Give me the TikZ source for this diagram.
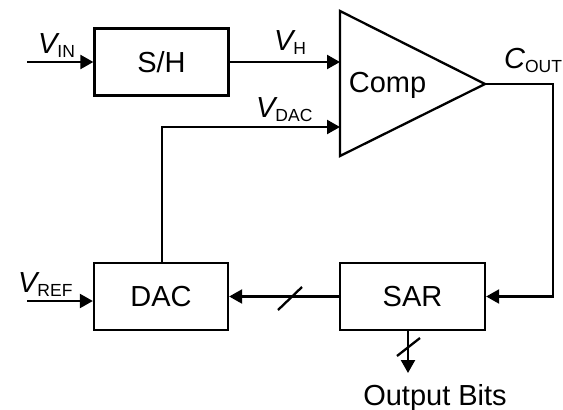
\documentclass[tikz,border=0pt]{standalone}
\usepackage{fontspec}
\setmainfont{Liberation Sans}
\usetikzlibrary{arrows.meta}
\newcommand\sigl[2]{{\itshape #1}\raisebox{-4.5pt}{\fontsize{17.5}{17.5}\selectfont #2}}
\begin{document}
\begin{tikzpicture}[x=1pt,y=-1pt,line width=2.3pt,
  font=\fontsize{29}{31}\selectfont,
  >={Triangle[length=13pt,width=14pt]},
  blk/.style={draw,inner sep=0pt,minimum height=67pt},
  lbl/.style={anchor=base west,inner sep=0pt}]
\useasboundingbox (0,0) rectangle (563,410);
% blocks
\node[blk,minimum width=134pt] (sh) at (161.5,62) {S/H};
\node[blk,minimum width=134pt] (dac) at (161,296.5) {DAC};
\node[blk,minimum width=145pt] (sar) at (412.5,296.5) {SAR};
% comparator
\coordinate (ct) at (340,11);
\coordinate (cb) at (340,156);
\coordinate (co) at (485,84);
\draw[line join=miter] (ct) -- (co) -- (cb) -- cycle;
\node[anchor=base,inner sep=0pt] (comp) at (387.5,92) {Comp};
\coordinate (cinH) at (340,62);
\coordinate (cinD) at (340,127);
% connectors
\coordinate (vin) at (27,62);
\draw[->] (vin) -- (sh.west);
\draw[->] (sh.east) -- (cinH);
\draw[->] (dac.north -| 162,0) |- (cinD);
\coordinate (cr) at (553,84);
\draw[->] (co) -- (cr) |- (sar.east);
\draw[->] (sar.west) -- (dac.east);
\coordinate (vref) at (27,301);
\draw[->] (vref) -- (vref -| dac.west);
\coordinate (ob) at (408,373);
\draw[->] (ob |- sar.south) -- (ob);
% bus slashes
\coordinate (s1) at (290,298.5);
\draw (s1) ++(-12,11.5) -- ++(24,-23);
\coordinate (s2) at (408.5,347);
\draw (s2) ++(-11.5,9) -- ++(23,-18);
% labels
\node[lbl] (lvin) at (37,53) {\sigl{V}{IN}};
\node[lbl] (lvh) at (273,50) {\sigl{V}{H}};
\node[lbl] (lvdac) at (255,117) {\sigl{V}{DAC}};
\node[lbl] (lcout) at (503,68) {\sigl{C}{OUT}};
\node[lbl] (lvref) at (17,292) {\sigl{V}{REF}};
\node[anchor=base,inner sep=0pt] (obits) at (435,405) {Output Bits};
\end{tikzpicture}
\end{document}
